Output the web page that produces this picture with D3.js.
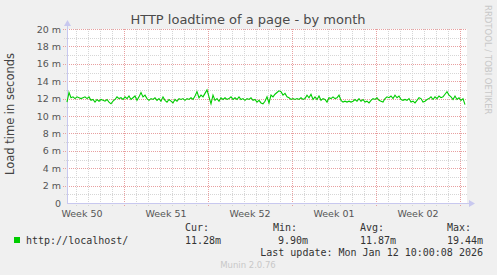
<!DOCTYPE html>
<html><head><meta charset="utf-8">
<script src="https://cdn.jsdelivr.net/npm/d3@7"></script>
<style>
html,body{margin:0;padding:0;background:#f0f0f0;}
svg{display:block;}
text{font-family:"DejaVu Sans",sans-serif;}
.mono{font-family:"DejaVu Sans Mono",monospace;}
</style></head>
<body>
<script>
// ---- data ----
const title = "HTTP loadtime of a page - by month";
const yLabel = "Load time in seconds";
const seriesName = "http://localhost/";
const startTime = "2025-12-10T06:00:00Z";
const endTime = "2026-01-12T14:00:00Z";
const stepHours = 4;
const loadValues = [
 11.6,12.7,12.1,12.2,12.0,12.2,12.1,12.0,12.1,12.2,12.0,12.2,11.8,11.9,11.6,11.9,11.7,11.9,11.8,11.7,
 11.9,11.6,11.4,11.7,11.9,12.2,12.0,12.1,11.9,12.2,12.0,12.3,11.9,12.1,12.3,11.8,12.2,12.7,12.2,12.4,
 12.0,11.8,12.0,11.9,12.1,11.8,12.0,11.7,12.2,11.8,11.6,11.9,11.7,11.5,11.9,11.7,12.0,11.9,12.0,11.8,
 12.0,11.9,12.1,11.9,12.3,12.8,12.1,12.4,12.2,12.6,13.0,12.2,11.4,12.4,11.8,12.0,11.7,12.1,11.9,12.1,
 11.9,12.0,12.2,11.9,12.1,11.9,12.2,11.9,12.0,11.8,12.0,11.9,12.1,11.8,11.9,11.6,11.8,11.5,11.4,11.7,
 12.2,11.5,12.4,12.2,12.5,12.7,12.9,12.8,12.4,12.6,12.2,12.1,11.9,12.0,11.9,12.0,11.9,12.1,11.9,12.0,
 12.4,12.1,12.5,11.9,12.2,11.9,12.3,11.8,12.0,11.9,11.6,12.1,12.0,12.2,12.0,12.1,12.4,11.8,11.6,11.7,
 11.6,11.7,11.6,11.7,11.9,11.7,12.0,11.7,11.9,11.6,11.7,11.5,11.8,12.0,11.9,12.1,11.8,11.7,11.6,12.0,
 12.2,12.1,12.3,12.0,12.4,12.1,12.3,11.9,11.8,11.9,11.8,12.0,11.6,11.7,11.5,11.8,12.1,12.0,11.6,11.7,
 11.9,12.0,12.2,11.9,12.2,12.0,12.3,12.1,12.2,12.5,12.8,12.4,12.2,11.9,12.3,11.9,12.1,11.8,12.0,11.3
];
const yTicks = [0,2,4,6,8,10,12,14,16,18,20];
const yTickLabels = ["0","2 m","4 m","6 m","8 m","10 m","12 m","14 m","16 m","18 m","20 m"];
const weekStarts = ["2025-12-15","2025-12-22","2025-12-29","2026-01-05","2026-01-12"];
const weekLabels = ["Week 50","Week 51","Week 52","Week 01","Week 02"];
const weekLabelCenters = ["2025-12-11T12:00:00Z","2025-12-18T12:00:00Z","2025-12-25T12:00:00Z","2026-01-01T12:00:00Z","2026-01-08T12:00:00Z"];
const legendHeads = ["Cur:","Min:","Avg:","Max:"];
const legendVals = ["11.28m","9.90m","11.87m","19.44m"];
const lastUpdate = "Last update: Mon Jan 12 10:00:08 2026";
const footer = "Munin 2.0.76";
const sideText = "RRDTOOL / TOBI OETIKER";

// ---- drawing ----
const W=497,H=275;
const svg=d3.select("body").append("svg").attr("width",W).attr("height",H);
svg.append("rect").attr("width",W).attr("height",H).attr("fill","#f0f0f0");

const t0=new Date(startTime), t1=new Date(endTime);
const x=d3.scaleUtc().domain([t0,t1]).range([67,467]);
const y=d3.scaleLinear().domain([0,20]).range([203,29]);

svg.append("rect").attr("x",67).attr("y",29).attr("width",400).attr("height",174).attr("fill","#ffffff");

const days=d3.utcDay.range(d3.utcDay.ceil(t0),t1);
const g=svg.append("g");
g.selectAll(".vmin").data(days).join("line")
 .attr("x1",d=>Math.round(x(d))+0.5).attr("x2",d=>Math.round(x(d))+0.5)
 .attr("y1",29).attr("y2",206)
 .attr("stroke","#d6d6d6").attr("stroke-dasharray","1,1").attr("stroke-width",1);
const minorY=d3.range(1,20,2);
g.selectAll(".hmin").data(minorY).join("line")
 .attr("x1",64).attr("x2",467)
 .attr("y1",d=>Math.round(y(d))+0.5).attr("y2",d=>Math.round(y(d))+0.5)
 .attr("stroke","#d6d6d6").attr("stroke-dasharray","1,1");
const wk=weekStarts.map(s=>new Date(s+"T00:00:00Z"));
g.selectAll(".vmaj").data(wk).join("line")
 .attr("x1",d=>Math.round(x(d))+0.5).attr("x2",d=>Math.round(x(d))+0.5)
 .attr("y1",29).attr("y2",207)
 .attr("stroke","#e8a0a0").attr("stroke-dasharray","1,1");
g.selectAll(".hmaj").data(yTicks.slice(1)).join("line")
 .attr("x1",63).attr("x2",467)
 .attr("y1",d=>Math.round(y(d))+0.5).attr("y2",d=>Math.round(y(d))+0.5)
 .attr("stroke","#e8a0a0").attr("stroke-dasharray","1,1");

svg.selectAll(".yl").data(yTicks).join("text")
 .attr("x",61).attr("y",d=>y(d)+3.5).attr("text-anchor","end")
 .attr("font-size","9.5px").attr("fill","#555").text((d,i)=>yTickLabels[i]);
svg.selectAll(".xl").data(weekLabelCenters).join("text")
 .attr("x",d=>x(new Date(d))).attr("y",217).attr("text-anchor","middle")
 .attr("font-size","9.5px").attr("fill","#555").text((d,i)=>weekLabels[i]);

const axc="#c8c8ef";
svg.append("line").attr("x1",67.5).attr("x2",67.5).attr("y1",203).attr("y2",24).attr("stroke",axc);
svg.append("path").attr("d","M64,26 L71,26 L67.5,20 Z").attr("fill",axc);
svg.append("line").attr("x1",67).attr("x2",471).attr("y1",203.5).attr("y2",203.5).attr("stroke",axc);
svg.append("path").attr("d","M469,200 L469,207 L475,203.5 Z").attr("fill",axc);

const pts=loadValues.map((v,i)=>({t:new Date(t0.getTime()+i*stepHours*3600e3),v}));
svg.append("path").datum(pts)
 .attr("d",d3.line().x(d=>x(d.t)).y(d=>y(d.v)))
 .attr("fill","none").attr("stroke","#00cc00").attr("stroke-width",1.1);

svg.append("text").attr("x",248).attr("y",24).attr("text-anchor","middle")
 .attr("font-size","13px").attr("fill","#4a4a4a").text(title);
svg.append("text").attr("transform","translate(14,114) rotate(-90)").attr("text-anchor","middle")
 .attr("font-size","11.5px").attr("fill","#444").text(yLabel);
svg.append("text").attr("transform","translate(485,5) rotate(90)").attr("text-anchor","start")
 .attr("font-size","8.5px").attr("fill","#c8c8c8").text(sideText);

svg.append("rect").attr("x",14).attr("y",237).attr("width",6).attr("height",6).attr("fill","#00cc00");
svg.append("text").attr("class","mono").attr("x",26).attr("y",243.5).attr("font-size","10px").attr("fill","#333").text(seriesName);
const headX=[185,273,360,447];
const valRight=[221,308,396,483];
svg.selectAll(".lh").data(legendHeads).join("text").attr("class","mono")
 .attr("x",(d,i)=>headX[i]).attr("y",231).attr("font-size","10px").attr("fill","#333").text(d=>d);
svg.selectAll(".lv").data(legendVals).join("text").attr("class","mono")
 .attr("x",(d,i)=>valRight[i]).attr("y",243.5).attr("text-anchor","end").attr("font-size","10px").attr("fill","#333").text(d=>d);
svg.append("text").attr("class","mono").attr("x",483).attr("y",256).attr("text-anchor","end")
 .attr("font-size","10px").attr("fill","#333").text(lastUpdate);
svg.append("text").attr("x",248).attr("y",268).attr("text-anchor","middle")
 .attr("font-size","8.5px").attr("fill","#c8c8c8").text(footer);
</script>
</body></html>
